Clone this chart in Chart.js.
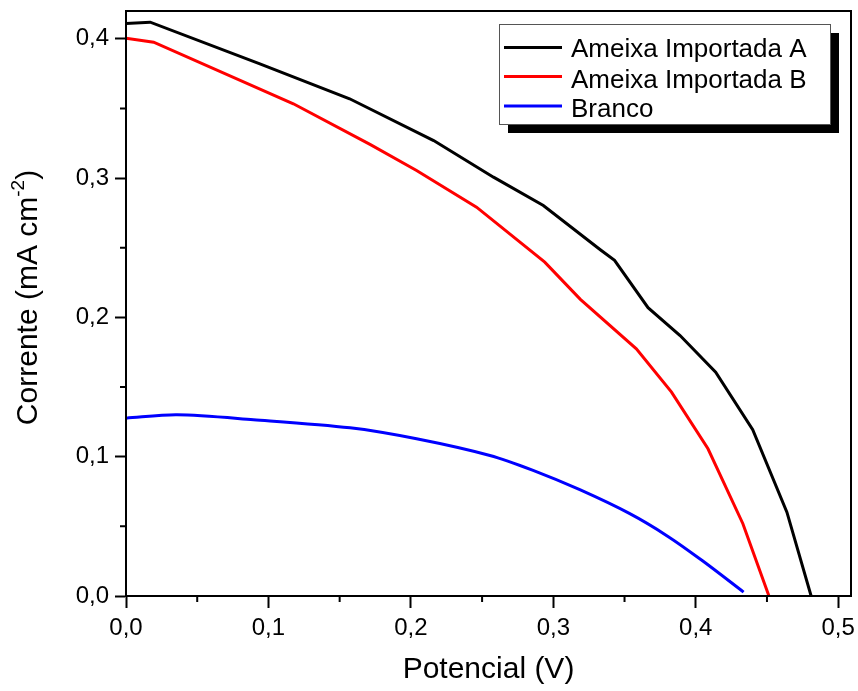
<!DOCTYPE html>
<html>
<head>
<meta charset="utf-8">
<script src="https://cdn.jsdelivr.net/npm/chart.js@4"></script>
<style>
  html, body { margin: 0; padding: 0; background: #fff; }
  #wrap { width: 858px; height: 691px; position: relative; }
</style>
</head>
<body>
<div id="wrap"><canvas id="chartJV"></canvas></div>
<script>
// Curvas J-V
const potA = [0, 0.017, 0.094, 0.157, 0.216, 0.258, 0.293, 0.333, 0.343, 0.3665, 0.389, 0.414, 0.440, 0.464, 0.481];
const corA = [0.411, 0.412, 0.382, 0.357, 0.327, 0.3007, 0.2804, 0.2486, 0.241, 0.207, 0.187, 0.1607, 0.1194, 0.0602, 0];

const potB = [0, 0.0194, 0.1175, 0.1713, 0.204, 0.2461, 0.294, 0.319, 0.3583, 0.383, 0.4086, 0.4331, 0.4514];
const corB = [0.4005, 0.3976, 0.3534, 0.3242, 0.3055, 0.2792, 0.2397, 0.213, 0.1775, 0.1464, 0.1057, 0.0519, 0];

const potBranco = [0, 0.0358, 0.0895, 0.1573, 0.204, 0.2555, 0.2858, 0.3186, 0.3537, 0.3805, 0.405, 0.4336];
const corBranco = [0.1277, 0.1301, 0.1266, 0.1208, 0.1129, 0.1009, 0.0902, 0.0763, 0.0591, 0.0428, 0.0251, 0.0028];

const LABELS = ['Ameixa Importada A', 'Ameixa Importada B', 'Branco'];
const CORES  = ['#000000', '#ff0000', '#0000ff'];

// título do eixo y: texto normal + expoente
const Y_TITULO = ['Corrente (mA cm', '-2', ')'];

const FONTE = '"Liberation Sans", Arial, sans-serif';

function pares(xs, ys) {
  return xs.map((x, i) => ({ x, y: ys[i] }));
}

function fmtVirgula(v) {
  return Number(v).toFixed(1).replace('.', ',');
}

// moldura + ticks menores + título y + legenda com sombra
const extras = {
  id: 'extras',
  afterDraw(chart) {
    const { ctx, chartArea: a, scales } = chart;
    ctx.save();
    ctx.strokeStyle = '#000';
    ctx.lineWidth = 2;
    ctx.strokeRect(a.left, a.top, a.right - a.left, a.bottom - a.top);

    // ticks menores
    ctx.beginPath();
    for (let v = 0.05; v < scales.x.max; v += 0.1) {
      const px = scales.x.getPixelForValue(v);
      ctx.moveTo(px, a.bottom);
      ctx.lineTo(px, a.bottom + 6);
    }
    for (let v = 0.05; v < scales.y.max; v += 0.1) {
      const py = scales.y.getPixelForValue(v);
      ctx.moveTo(a.left, py);
      ctx.lineTo(a.left - 6, py);
    }
    ctx.stroke();

    // título y rotacionado
    const fBase = '30px ' + FONTE, fSup = '19px ' + FONTE;
    ctx.font = fBase;
    const w0 = ctx.measureText(Y_TITULO[0]).width;
    const w2 = ctx.measureText(Y_TITULO[2]).width;
    ctx.font = fSup;
    const w1 = ctx.measureText(Y_TITULO[1]).width;
    const total = w0 + w1 + w2;
    ctx.translate(29, (a.top + a.bottom) / 2 - 6);
    ctx.rotate(-Math.PI / 2);
    ctx.fillStyle = '#000';
    ctx.textBaseline = 'middle';
    ctx.textAlign = 'left';
    let cx = -total / 2;
    ctx.font = fBase;
    ctx.fillText(Y_TITULO[0], cx, 0);
    cx += w0;
    ctx.font = fSup;
    ctx.fillText(Y_TITULO[1], cx, -10);
    cx += w1;
    ctx.font = fBase;
    ctx.fillText(Y_TITULO[2], cx, 0);
    ctx.setTransform(1, 0, 0, 1, 0, 0);

    // legenda
    const bx = 499, by = 24, bw = 331, bh = 100;
    ctx.fillStyle = '#000';
    ctx.fillRect(bx + 9, by + 9, bw, bh);
    ctx.fillStyle = '#fff';
    ctx.fillRect(bx, by, bw, bh);
    ctx.strokeStyle = '#555';
    ctx.lineWidth = 1;
    ctx.strokeRect(bx + 0.5, by + 0.5, bw, bh);

    const linhaY = [47.5, 76.5, 106];
    const textoY = [57, 87.5, 117];
    ctx.font = '26px ' + FONTE;
    ctx.textBaseline = 'alphabetic';
    chart.data.datasets.forEach((ds, i) => {
      ctx.strokeStyle = ds.borderColor;
      ctx.lineWidth = 3;
      ctx.beginPath();
      ctx.moveTo(504, linhaY[i]);
      ctx.lineTo(562, linhaY[i]);
      ctx.stroke();
      ctx.fillStyle = '#000';
      ctx.fillText(ds.label, 571, textoY[i]);
    });
    ctx.restore();
  }
};

const series = [pares(potA, corA), pares(potB, corB), pares(potBranco, corBranco)];

new Chart(document.getElementById('chartJV'), {
  type: 'line',
  data: {
    datasets: series.map((d, i) => ({
      label: LABELS[i],
      data: d,
      borderColor: CORES[i],
      backgroundColor: CORES[i],
      borderWidth: 3,
      pointRadius: 0,
      tension: i === 2 ? 0.3 : 0,
      fill: false,
    })),
  },
  options: {
    responsive: true,
    maintainAspectRatio: false,
    animation: false,
    layout: { padding: { top: 11, right: 7, left: 0, bottom: 0 } },
    plugins: { legend: { display: false }, tooltip: { enabled: false } },
    scales: {
      x: {
        type: 'linear',
        min: 0,
        max: 0.509,
        afterFit: s => { s.height = 95; s.paddingLeft = 0; s.paddingRight = 0; },
        ticks: {
          stepSize: 0.1,
          includeBounds: false,
          color: '#000',
          padding: 6,
          font: { family: FONTE, size: 24 },
          callback: fmtVirgula,
          maxRotation: 0,
        },
        grid: { drawOnChartArea: false, tickLength: 12, tickWidth: 2, tickColor: '#000' },
        border: { color: '#000', width: 2 },
        title: {
          display: true,
          text: 'Potencial (V)',
          color: '#000',
          font: { family: FONTE, size: 30 },
          padding: { top: 0, bottom: 3 },
        },
      },
      y: {
        type: 'linear',
        min: 0,
        max: 0.42,
        afterFit: s => { s.width = 126; s.paddingTop = 0; s.paddingBottom = 0; },
        ticks: {
          stepSize: 0.1,
          includeBounds: false,
          color: '#000',
          padding: 6,
          font: { family: FONTE, size: 24 },
          callback: fmtVirgula,
        },
        grid: { drawOnChartArea: false, tickLength: 11, tickWidth: 2, tickColor: '#000' },
        border: { color: '#000', width: 2 },
        title: { display: false },
      },
    },
  },
  plugins: [extras],
});
</script>
</body>
</html>
